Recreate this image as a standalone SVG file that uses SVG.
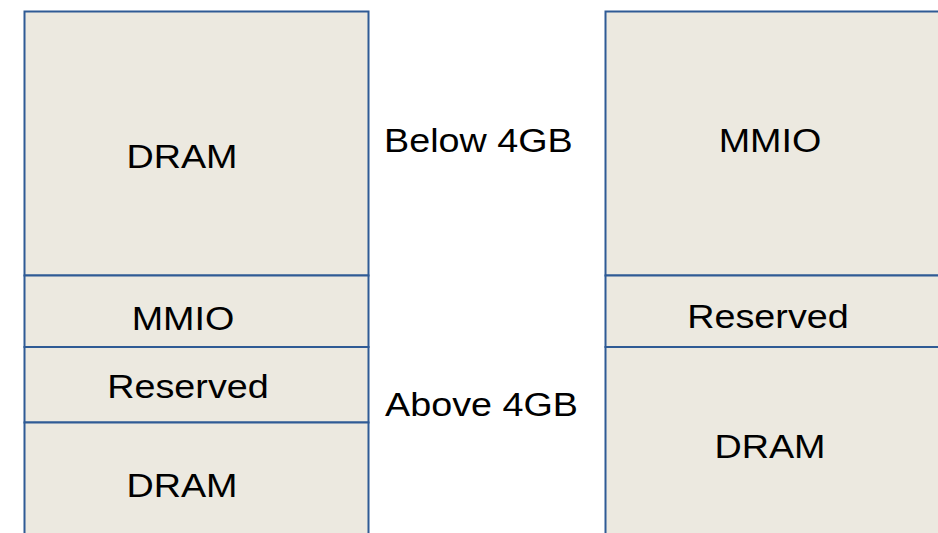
<svg xmlns="http://www.w3.org/2000/svg" width="938" height="533" viewBox="0 0 938 533">
<style>
.box{fill:#ECE9E0;stroke:#2F5B95;stroke-width:2}
.t{font-family:"Liberation Sans",Arial,sans-serif;font-size:34px;fill:#000;text-anchor:middle}
.l{font-family:"Liberation Sans",Arial,sans-serif;font-size:34px;fill:#000}
</style>
<rect width="938" height="533" fill="#fff"/>
<g id="left-dram-top"><rect class="box" x="24.5" y="11.5" width="344" height="264"/><text class="t" transform="translate(182,168) scale(1.11,1)">DRAM</text></g>
<g id="left-mmio"><rect class="box" x="24.5" y="275.5" width="344" height="71.5"/><text class="t" transform="translate(183,330) scale(1.11,1)">MMIO</text></g>
<g id="left-reserved"><rect class="box" x="24.5" y="347" width="344" height="75.5"/><text class="t" transform="translate(188,398) scale(1.11,1)">Reserved</text></g>
<g id="left-dram-bottom"><rect class="box" x="24.5" y="422.5" width="344" height="130"/><text class="t" transform="translate(182,497) scale(1.11,1)">DRAM</text></g>
<g id="right-mmio"><rect class="box" x="605.5" y="11.5" width="360" height="264"/><text class="t" transform="translate(770,152) scale(1.11,1)">MMIO</text></g>
<g id="right-reserved"><rect class="box" x="605.5" y="275.5" width="360" height="71.5"/><text class="t" transform="translate(768,328) scale(1.11,1)">Reserved</text></g>
<g id="right-dram"><rect class="box" x="605.5" y="347" width="360" height="200"/><text class="t" transform="translate(770,458) scale(1.11,1)">DRAM</text></g>
<g id="labels"><text class="l" transform="translate(384,152) scale(1.11,1)">Below 4GB</text><text class="l" transform="translate(385,416) scale(1.11,1)">Above 4GB</text></g>
<g id="connectors"></g>
</svg>
